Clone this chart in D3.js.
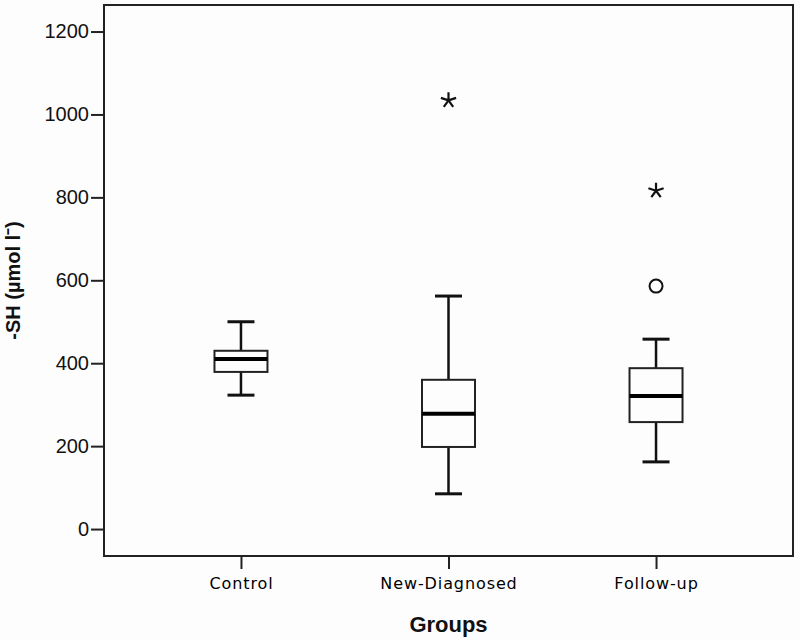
<!DOCTYPE html>
<html>
<head>
<meta charset="utf-8">
<script src="https://cdn.jsdelivr.net/npm/d3@7"></script>
<style>
  body { margin: 0; background: #fdfdfd; }
  svg { display: block; }
</style>
</head>
<body>
<svg id="chart" width="800" height="640"></svg>
<script>
// groups on the x axis
const groups = ['Control', 'New-Diagnosed', 'Follow-up'];
// box plot stats: lower whisker, q1, median, q3, upper whisker
const lowWhisker = [323, 85, 162];
const q1 = [379, 198, 258];
const median = [410, 278, 321];
const q3 = [430, 360, 388];
const highWhisker = [500, 562, 458];
// outliers: circles are mild, stars are extreme
const mildOutliers = [[], [], [586]];
const extremeOutliers = [[], [1034], [816]];
const yTicks = [0, 200, 400, 600, 800, 1000, 1200];

const svg = d3.select('#chart');
const margin = { top: 5, right: 7, bottom: 84, left: 104 };
const width = +svg.attr('width') - margin.left - margin.right;
const height = +svg.attr('height') - margin.top - margin.bottom;
const g = svg.append('g').attr('transform', 'translate(' + margin.left + ',' + margin.top + ')');

const x = d3.scalePoint()
  .domain(groups)
  .range([0, width])
  .padding(0.66);

const y = d3.scaleLinear()
  .domain([-65, 1264])
  .range([height, 0]);

const stats = groups.map(function(name, i) {
  return {
    name: name,
    lo: lowWhisker[i], q1: q1[i], med: median[i], q3: q3[i], hi: highWhisker[i],
    mild: mildOutliers[i], extreme: extremeOutliers[i]
  };
});

// frame
g.append('rect')
  .attr('x', 0).attr('y', 0)
  .attr('width', width).attr('height', height)
  .attr('fill', 'none')
  .attr('stroke', '#222')
  .attr('stroke-width', 2);

// y axis
const yAxis = g.append('g')
  .call(d3.axisLeft(y).tickValues(yTicks).tickSize(13).tickPadding(2).tickFormat(d3.format('d')));
yAxis.select('.domain').remove();
yAxis.selectAll('line').attr('stroke', '#222').attr('stroke-width', 2);
yAxis.selectAll('text')
  .attr('fill', '#111')
  .style('font-family', '"Liberation Sans", Arial, sans-serif')
  .style('font-size', '20px');

// x axis
const xAxis = g.append('g')
  .attr('transform', 'translate(0,' + height + ')')
  .call(d3.axisBottom(x).tickSize(13).tickPadding(9));
xAxis.select('.domain').remove();
xAxis.selectAll('line').attr('stroke', '#222').attr('stroke-width', 2);
xAxis.selectAll('text')
  .attr('fill', '#000')
  .style('font-family', '"DejaVu Sans", Verdana, sans-serif')
  .style('font-size', '16px')
  .style('letter-spacing', '0.9px');

// axis titles
svg.append('text')
  .attr('x', margin.left + x('New-Diagnosed'))
  .attr('y', 632)
  .attr('text-anchor', 'middle')
  .style('font-family', '"Liberation Sans", Arial, sans-serif')
  .style('font-size', '22px')
  .style('font-weight', 'bold')
  .attr('fill', '#111')
  .text('Groups');

svg.append('text')
  .attr('transform', 'translate(20,' + (margin.top + height / 2) + ') rotate(-90)')
  .attr('text-anchor', 'middle')
  .style('font-family', '"Liberation Sans", Arial, sans-serif')
  .style('font-size', '20px')
  .style('font-weight', 'bold')
  .attr('fill', '#111')
  .text('-SH (\u00b5mol l\u207b)');

const boxW = 53;
const capW = 27;

const box = g.selectAll('.box')
  .data(stats)
  .enter()
  .append('g')
  .attr('class', 'box')
  .attr('transform', function(d) { return 'translate(' + x(d.name) + ',0)'; });

// whiskers
box.append('line')
  .attr('x1', 0).attr('x2', 0)
  .attr('y1', function(d) { return y(d.hi); })
  .attr('y2', function(d) { return y(d.q3); })
  .attr('stroke', '#111').attr('stroke-width', 2.5);
box.append('line')
  .attr('x1', 0).attr('x2', 0)
  .attr('y1', function(d) { return y(d.q1); })
  .attr('y2', function(d) { return y(d.lo); })
  .attr('stroke', '#111').attr('stroke-width', 2.5);

// caps
['hi', 'lo'].forEach(function(k) {
  box.append('line')
    .attr('x1', -capW / 2).attr('x2', capW / 2)
    .attr('y1', function(d) { return y(d[k]); })
    .attr('y2', function(d) { return y(d[k]); })
    .attr('stroke', '#111').attr('stroke-width', 3);
});

// box
box.append('rect')
  .attr('x', -boxW / 2)
  .attr('width', boxW)
  .attr('y', function(d) { return y(d.q3); })
  .attr('height', function(d) { return y(d.q1) - y(d.q3); })
  .attr('fill', 'none')
  .attr('stroke', '#222')
  .attr('stroke-width', 2);

// median
box.append('line')
  .attr('x1', -boxW / 2).attr('x2', boxW / 2)
  .attr('y1', function(d) { return y(d.med); })
  .attr('y2', function(d) { return y(d.med); })
  .attr('stroke', '#000').attr('stroke-width', 4);

// mild outliers as circles
box.selectAll('.mild')
  .data(function(d) { return d.mild; })
  .enter()
  .append('circle')
  .attr('class', 'mild')
  .attr('cx', 0)
  .attr('cy', function(v) { return y(v); })
  .attr('r', 6.5)
  .attr('fill', 'none')
  .attr('stroke', '#111')
  .attr('stroke-width', 2);

// extreme outliers as five-arm stars
const star = {
  draw: function(context, size) {
    const r = Math.sqrt(size) / 2;
    for (let k = 0; k < 5; k++) {
      const a = -Math.PI / 2 + k * 2 * Math.PI / 5;
      context.moveTo(0, 0);
      context.lineTo(r * Math.cos(a), r * Math.sin(a));
    }
  }
};
box.selectAll('.extreme')
  .data(function(d) { return d.extreme; })
  .enter()
  .append('path')
  .attr('class', 'extreme')
  .attr('transform', function(v) { return 'translate(0,' + y(v) + ')'; })
  .attr('d', d3.symbol().type(star).size(256))
  .attr('fill', 'none')
  .attr('stroke', '#111')
  .attr('stroke-width', 2.2);
</script>
</body>
</html>
